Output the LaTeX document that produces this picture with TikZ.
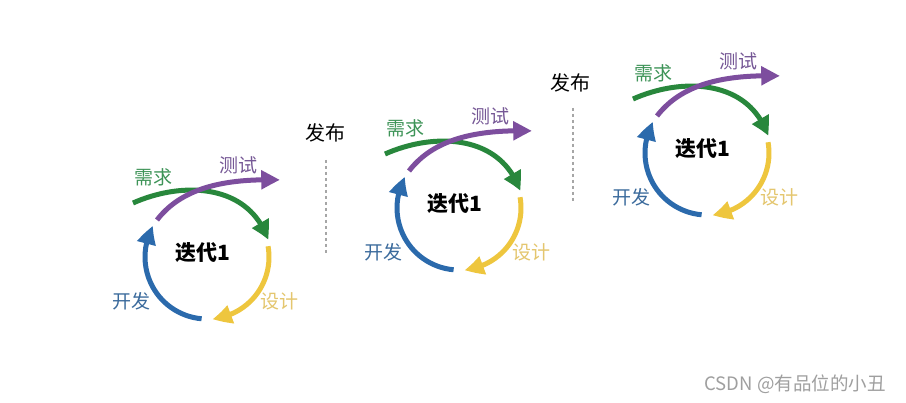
\documentclass[tikz,border=0pt]{standalone}
\usepackage{fontspec}
\setmainfont{Noto Sans CJK SC}
\usetikzlibrary{arrows.meta,bending}
\definecolor{cgreen}{RGB}{40,135,60}
\definecolor{cpurple}{RGB}{125,78,158}
\definecolor{cyellow}{RGB}{238,198,62}
\definecolor{cblue}{RGB}{43,106,172}
\definecolor{tgreen}{RGB}{62,148,88}
\definecolor{tpurple}{RGB}{118,88,150}
\definecolor{tyellow}{RGB}{228,198,110}
\definecolor{tblue}{RGB}{58,106,156}
\tikzset{
  cyc/.style={line width=5pt,-{Triangle[length=19pt,width=18pt,bend]}},
  lbl/.style={font=\fontsize{19}{19}\selectfont,inner sep=0pt},
  itr/.style={font=\fontsize{21}{21}\selectfont\bfseries,inner sep=0pt},
  rel/.style={font=\fontsize{20}{20}\selectfont,inner sep=0pt},
  dots/.style={draw=gray!70,line width=1.2pt,dash pattern=on 3pt off 3pt}
}
\newcommand\iterdraw[3]{%
\begin{scope}[shift={(#1,#2)}]
  \draw[cyc,cgreen] (-74,-54) .. controls (-22,-77) and (43,-72) .. (61,-17);
  \draw[cyc,cpurple] (-50,-37) .. controls (-27,-67) and (13,-79) .. (73,-77);
  \draw[cyc,cyellow] (-10:62) arc[start angle=-10,end angle=85,radius=62];
  \draw[cyc,cblue] (95:62) arc[start angle=95,end angle=210,radius=62];
  \node[itr] (#3) at (-4,-4) {迭代1};
  \node[lbl,text=tgreen] (#3req) at (-54,-80) {需求};
  \node[lbl,text=tpurple] (#3tst) at (31,-92) {测试};
  \node[lbl,text=tyellow] (#3des) at (72,44) {设计};
  \node[lbl,text=tblue] (#3dev) at (-76,44) {开发};
\end{scope}}
\begin{document}
\begin{tikzpicture}[x=1pt,y=-1pt]
\useasboundingbox[fill=white] (0,0) rectangle (906,403);
\iterdraw{207}{257}{ia}
\iterdraw{459}{208}{ib}
\iterdraw{707}{153}{ic}
\node[rel] (r1) at (325,133) {发布};
\node[rel] (r2) at (570,83) {发布};
\coordinate (d1a) at (326,160);
\coordinate (d1b) at (326,253);
\coordinate (d2a) at (573,108);
\coordinate (d2b) at (573,203);
\draw[dots] (d1a) -- (d1b);
\draw[dots] (d2a) -- (d2b);
\node[font=\fontsize{18.5}{18.5}\selectfont,text=gray!75,inner sep=0pt] (wm) at (795,384) {CSDN @有品位的小丑};
\end{tikzpicture}
\end{document}
